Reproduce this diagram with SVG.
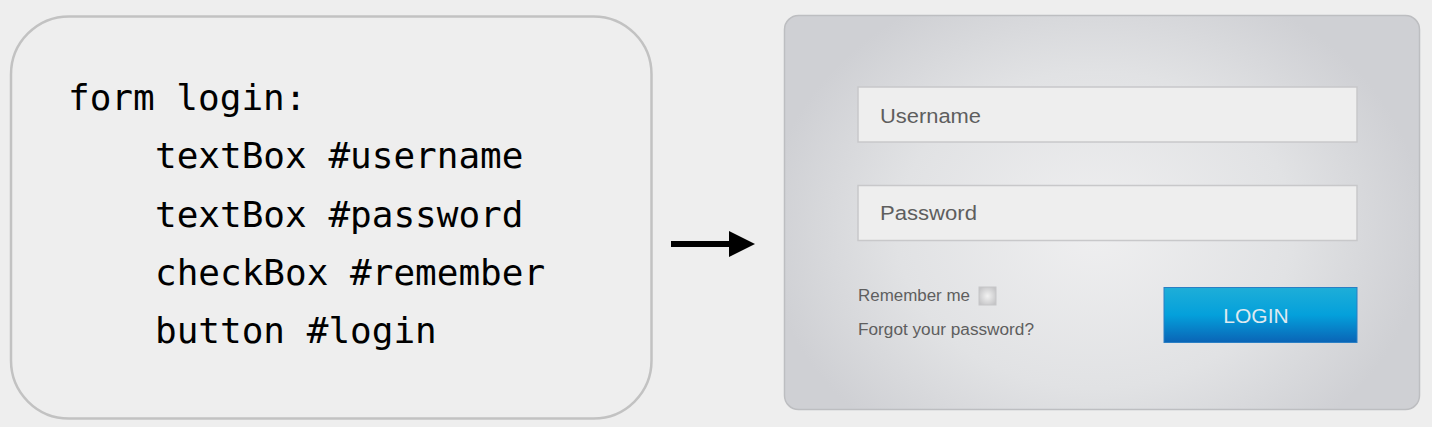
<svg xmlns="http://www.w3.org/2000/svg" width="1432" height="427" viewBox="0 0 1432 427">
<style>
.code{font-family:"DejaVu Sans Mono","Liberation Mono",monospace;font-size:36px;fill:#000}
.ui{font-family:"Liberation Sans",Arial,sans-serif;fill:#5e5e5e}
.field{fill:#eeeeee;stroke:#c8c8ca;stroke-width:1.5}
</style>
<defs>
<radialGradient id="panelGrad" cx="1095" cy="230" r="330" gradientUnits="userSpaceOnUse" gradientTransform="translate(1095 230) scale(1 0.8) translate(-1095 -230)">
<stop offset="0" stop-color="#efeff0"/>
<stop offset="0.6" stop-color="#e1e2e4"/>
<stop offset="1" stop-color="#cfd0d4"/>
</radialGradient>
<linearGradient id="btnGrad" x1="0" y1="0" x2="0" y2="1">
<stop offset="0" stop-color="#1eaed8"/>
<stop offset="0.5" stop-color="#04a0db"/>
<stop offset="1" stop-color="#0a64b6"/>
</linearGradient>
<radialGradient id="chkGrad" cx="0.5" cy="0.5" r="0.6">
<stop offset="0" stop-color="#f2f2f2"/>
<stop offset="1" stop-color="#c4c4c6"/>
</radialGradient>
<marker id="arrowHead" markerWidth="26" markerHeight="26" viewBox="0 0 26 26" refX="0" refY="13" markerUnits="userSpaceOnUse" orient="auto">
<path d="M0 0 L26 13 L0 26 Z" fill="#000"/>
</marker>
</defs>
<rect width="1432" height="427" fill="#eeeeee"/>
<g id="code-node">
<rect x="11" y="16.5" width="640.5" height="402" rx="58" fill="#eeeeee" stroke="#c2c2c2" stroke-width="2.5"/>
<text class="code" x="68" y="110">form login:</text>
<text class="code" x="155" y="168">textBox #username</text>
<text class="code" x="155" y="227">textBox #password</text>
<text class="code" x="155" y="285">checkBox #remember</text>
<text class="code" x="155" y="343">button #login</text>
</g>
<g id="connectors">
<line x1="671" y1="244" x2="729" y2="244" stroke="#000" stroke-width="6" marker-end="url(#arrowHead)"/>
</g>
<g id="login-form-node">
<rect x="784.5" y="15.5" width="635" height="394" rx="14" fill="url(#panelGrad)" stroke="#bdbec1" stroke-width="1.5"/>
<rect class="field" x="858" y="87" width="499" height="55"/>
<text class="ui" x="880" y="123" font-size="20.5" textLength="101" lengthAdjust="spacingAndGlyphs">Username</text>
<rect class="field" x="858" y="185.5" width="499" height="55"/>
<text class="ui" x="880" y="219.5" font-size="20.5" textLength="97" lengthAdjust="spacingAndGlyphs">Password</text>
<text class="ui" x="858" y="301" font-size="16" fill="#4e4e4e" textLength="112" lengthAdjust="spacingAndGlyphs">Remember me</text>
<rect x="979" y="287" width="17" height="18" fill="url(#chkGrad)" stroke="#c6c6c8" stroke-width="1"/>
<text class="ui" x="858" y="335" font-size="16" fill="#4e4e4e" textLength="176" lengthAdjust="spacingAndGlyphs">Forgot your password?</text>
<rect x="1164" y="287.5" width="193" height="55" fill="url(#btnGrad)" stroke="#2a7fc4" stroke-width="1"/>
<text x="1256" y="323" font-family="'Liberation Sans',Arial,sans-serif" font-size="21" fill="#dfe9f0" text-anchor="middle">LOGIN</text>
</g>
</svg>
